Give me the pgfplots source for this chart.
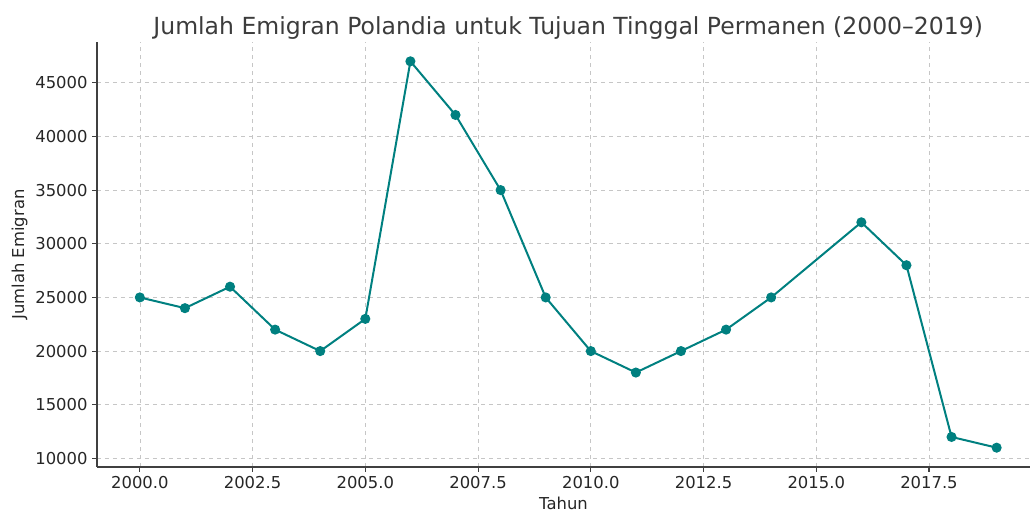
\documentclass[border=0pt]{standalone}
\usepackage{pgfplots}
\pgfplotsset{compat=1.18}
\usepackage{fontspec}
\setmainfont{DejaVu Sans}
\definecolor{teal1}{RGB}{0,128,128}
\definecolor{txt}{RGB}{38,38,38}
\definecolor{spine}{RGB}{64,64,64}
\begin{document}
\begin{tikzpicture}
\useasboundingbox (-72.75pt,-34.5pt) rectangle (700.5pt,350.25pt);
\begin{axis}[
  at={(0,0)}, anchor=south west,
  scale only axis,
  width=699.75pt, height=318.75pt,
  xmin=1999.05, xmax=2019.74,
  ymin=9200, ymax=48800,
  xtick={2000,2002.5,2005,2007.5,2010,2012.5,2015,2017.5},
  xticklabels={2000.0,2002.5,2005.0,2007.5,2010.0,2012.5,2015.0,2017.5},
  ytick={10000,15000,20000,25000,30000,35000,40000,45000},
  scaled ticks=false,
  yticklabel style={/pgf/number format/.cd,set thousands separator={},fixed},
  /pgf/number format/assume math mode=true,
  axis lines*=left,
  axis line style={spine, line width=1.1pt},
  tick style={spine, line width=0.8pt},
  tick align=outside,
  major tick length=3.6pt,
  grid=major,
  major grid style={dashed, gray!45, line width=0.5pt},
  ticklabel style={font=\fontsize{12.3}{14}\selectfont, text=txt},
  xlabel={Tahun},
  ylabel={Jumlah Emigran},
  label style={font=\fontsize{12.3}{14}\selectfont, text=txt},
  xlabel style={inner sep=0.5pt, yshift=-2.3pt},
  ylabel style={yshift=-1pt},
  title={Jumlah Emigran Polandia untuk Tujuan Tinggal Permanen (2000–2019)},
  title style={font=\fontsize{17.65}{20}\selectfont, text=txt!90, yshift=-7.5pt, xshift=3.5pt},
  clip=false,
]
\addplot[teal1, line width=1.5pt, mark=*, mark size=3pt, mark options={fill=teal1, draw=teal1}] coordinates {
(2000,25000) (2001,24000) (2002,26000) (2003,22000) (2004,20000)
(2005,23000) (2006,47000) (2007,42000) (2008,35000) (2009,25000)
(2010,20000) (2011,18000) (2012,20000) (2013,22000) (2014,25000)
(2016,32000) (2017,28000) (2018,12000) (2019,11000)
};
\end{axis}
\end{tikzpicture}
\end{document}
